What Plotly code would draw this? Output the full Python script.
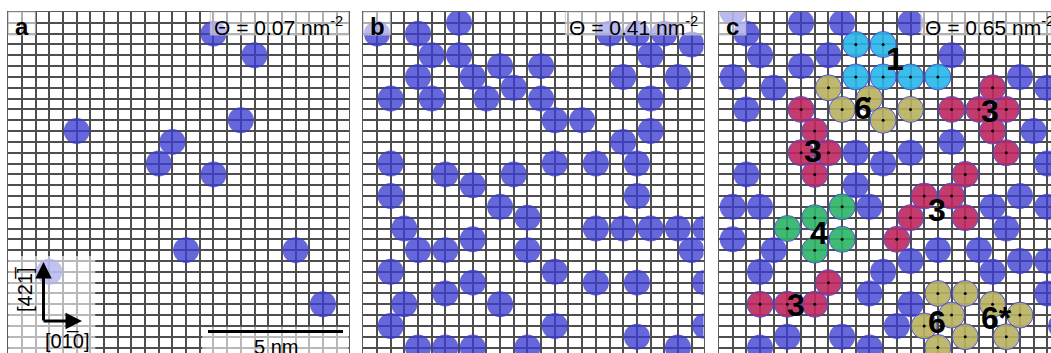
import plotly.graph_objects as go

# ---------------- lattice geometry (grid units) ----------------
COLS_AB = 24.87          # visible columns in panels a and b
COLS_C = 24.27           # panel c is cut at the right edge
ROWS = 31.5

# ---------------- adsorbate positions: (column, row) ----------------
# panel a, coverage 0.07 nm^-2
a_cols = [15, 18, 17, 5, 12, 11, 15, 13, 21, 23, 3]
a_rows = [2, 4, 10, 11, 12, 14, 15, 22, 22, 27, 24]

# panel b, coverage 0.41 nm^-2
b_cols = [1, 4, 7, 5, 7, 10, 13, 4, 8, 11, 2, 5, 9, 13, 14, 16, 18, 20, 22, 24,
          21, 19, 23, 21, 21, 19, 20, 2, 6, 8, 11, 14, 17,
          2, 20, 10, 12, 3, 17, 19, 21, 23, 25, 4, 6, 8, 12, 24,
          2, 14, 8, 17, 20, 25, 6, 3, 10, 2, 14, 25, 20, 4, 6, 8, 12, 23]
b_rows = [2, 2, 1, 4, 4, 5, 5, 6, 6, 7, 8, 8, 8, 8, 10, 10, 2, 2, 2, 3,
          4, 6, 6, 8, 11, 12, 14, 14, 15, 16, 15, 14, 14,
          17, 17, 18, 19, 20, 20, 20, 20, 20, 20, 22, 22, 21, 22, 22,
          24, 24, 25, 25, 25, 25, 26, 27, 27, 29, 29, 29, 30, 31, 31, 31, 31, 31]

# panel c, coverage 0.65 nm^-2 : isolated species
c_cols = [1, 2, 3, 1, 4, 2, 6, 9, 6, 8, 14, 17, 22, 24, 23, 24, 17, 14, 12, 10, 2,
          10, 1, 3, 11, 1, 4, 3, 12, 11, 14, 13, 14, 16, 19, 20, 21, 20, 22, 24,
          22, 24, 24, 25, 5, 3, 9, 11]
c_rows = [0, 2, 4, 6, 7, 9, 1, 1, 5, 4, 1, 4, 6, 7, 11, 14, 12, 13, 14, 13, 15,
          16, 18, 18, 18, 21, 22, 24, 24, 26, 27, 29, 23, 22, 22, 24, 20, 18, 17, 18,
          23, 23, 26, 29, 30, 31, 30, 31]

# panel c clusters, grouped by size
c1_cols = [10, 12, 10, 12, 14, 16]
c1_rows = [3, 3, 6, 6, 6, 6]
c3_cols = [6, 7, 6, 8, 7, 17, 19, 20, 21, 20, 21, 18, 15, 17, 14, 18, 13, 3, 5, 7, 8]
c3_rows = [9, 11, 13, 13, 15, 9, 9, 7, 9, 11, 13, 15, 17, 17, 19, 19, 21, 27, 27, 27, 25]
c4_cols = [5, 7, 9, 9, 7]
c4_rows = [20, 19, 18, 21, 22]
c6_cols = [8, 9, 11, 12, 14, 16, 18, 17, 15, 18, 16, 20, 22, 21]
c6_rows = [7, 9, 8, 10, 9, 26, 26, 28, 29, 30, 31, 27, 28, 30]

# cluster labels: text, column, row
lab_text = ["1", "6", "3", "3", "4", "3", "3", "6", "6*"]
lab_cols = [12.9, 10.55, 19.8, 6.9, 7.3, 15.9, 5.6, 15.9, 20.3]
lab_rows = [4.3, 8.9, 9.1, 12.8, 20.4, 18.3, 27.1, 28.6, 28.3]

coverage = ["0.07", "0.41", "0.65"]
panel_tags = ["a", "b", "c"]

# ---------------- styling ----------------
W, H = 1051, 353
BLUE = "rgb(60,60,210)"
CYAN = "rgb(40,182,232)"
OLIVE = "rgb(184,178,96)"
CRIMSON = "rgb(190,40,95)"
GREEN = "rgb(44,180,104)"
DOT_PX = 26
GRID = "rgb(78,78,78)"

left_px = [8.3, 363.3, 719.0]
right_px = [348.5, 703.5, 1051.0]
top_px = 12.0

fig = go.Figure()

y_dom = [0, (H - top_px) / H]
col_spans = [COLS_AB, COLS_AB, COLS_C]
for k in range(3):
    sfx = "" if k == 0 else str(k + 1)
    fig.update_layout(**{
        "xaxis" + sfx: dict(domain=[left_px[k] / W, right_px[k] / W],
                             range=[0, col_spans[k]], dtick=1, tick0=0,
                             showgrid=True, gridcolor=GRID, gridwidth=2,
                             zeroline=False, showticklabels=False, ticks="",
                             showline=True, mirror=True, linecolor="rgb(90,90,90)",
                             linewidth=1.4, layer="below traces",
                             anchor="y" + sfx, fixedrange=True),
        "yaxis" + sfx: dict(domain=y_dom, range=[ROWS, 0], dtick=1, tick0=0,
                             showgrid=True, gridcolor=GRID, gridwidth=2,
                             zeroline=False, showticklabels=False, ticks="",
                             showline=True, mirror=True, linecolor="rgb(90,90,90)",
                             linewidth=1.4, layer="below traces",
                             anchor="x" + sfx, fixedrange=True),
    })


def add_dots(cols, rows, k, color, opacity, outline=False, centre=False):
    sfx = "" if k == 0 else str(k + 1)
    fig.add_trace(go.Scatter(
        x=cols, y=rows, mode="markers", xaxis="x" + sfx, yaxis="y" + sfx,
        marker=dict(size=DOT_PX, color=color, opacity=opacity,
                    line=dict(width=1 if outline else 0, color="rgb(70,70,220)")),
        hoverinfo="skip", showlegend=False, cliponaxis=True))
    if centre:
        fig.add_trace(go.Scatter(
            x=cols, y=rows, mode="markers", xaxis="x" + sfx, yaxis="y" + sfx,
            marker=dict(size=3, color="black"),
            hoverinfo="skip", showlegend=False, cliponaxis=True))


add_dots(a_cols, a_rows, 0, BLUE, 0.78)
add_dots(b_cols, b_rows, 1, BLUE, 0.78)
add_dots(c_cols, c_rows, 2, BLUE, 0.78)
add_dots(c1_cols, c1_rows, 2, CYAN, 0.9, True, True)
add_dots(c3_cols, c3_rows, 2, CRIMSON, 0.9, True, True)
add_dots(c4_cols, c4_rows, 2, GREEN, 0.9, True, True)
add_dots(c6_cols, c6_rows, 2, OLIVE, 0.9, True, True)

FONT = "Liberation Sans, Arial"

# cluster size labels in panel c
for t, cx, cy in zip(lab_text, lab_cols, lab_rows):
    fig.add_annotation(x=cx, y=cy, xref="x3", yref="y3", text="<b>%s</b>" % t,
                       showarrow=False, font=dict(size=32, color="black", family=FONT))

shapes = []
for k in range(3):
    xd = "x domain" if k == 0 else "x%d domain" % (k + 1)
    yd = "y domain" if k == 0 else "y%d domain" % (k + 1)
    pw = right_px[k] - left_px[k]
    ph = H - top_px
    # translucent header boxes
    shapes.append(dict(type="rect", xref=xd, yref=yd, x0=0, x1=27 / pw,
                       y0=1 - 23 / ph, y1=1, fillcolor="rgba(255,255,255,0.55)",
                       line=dict(width=1, color="rgba(190,190,190,0.8)"), layer="above"))
    shapes.append(dict(type="rect", xref=xd, yref=yd, x0=202 / pw, x1=1,
                       y0=1 - 23 / ph, y1=1, fillcolor="rgba(255,255,255,0.55)",
                       line=dict(width=1, color="rgba(190,190,190,0.8)"), layer="above"))
    fig.add_annotation(xref=xd, yref=yd, x=5 / pw, y=1 + 1 / ph, xanchor="left",
                       yanchor="top", text="<b>%s</b>" % panel_tags[k], showarrow=False,
                       font=dict(size=24, color="black", family=FONT))
    fig.add_annotation(xref=xd, yref=yd, x=204 / pw, y=1 + 1 / ph, xanchor="left",
                       yanchor="top", showarrow=False,
                       text="\u0398 = %s nm<sup>-2</sup>" % coverage[k],
                       font=dict(size=21, color="black", family=FONT))

# panel a: orientation and scale-bar insets
pw = right_px[0] - left_px[0]
ph = H - top_px
shapes.append(dict(type="rect", xref="x domain", yref="y domain", x0=0, x1=87 / pw,
                   y0=0, y1=(H - 256) / ph, fillcolor="rgba(255,255,255,0.6)",
                   line=dict(width=0), layer="above"))
shapes.append(dict(type="rect", xref="x domain", yref="y domain", x0=194 / pw, x1=1,
                   y0=0, y1=(H - 327) / ph, fillcolor="rgba(255,255,255,0.6)",
                   line=dict(width=0), layer="above"))
# 5 nm scale bar
shapes.append(dict(type="line", xref="paper", yref="paper", x0=208 / W, x1=343 / W,
                   y0=(H - 331.5) / H, y1=(H - 331.5) / H,
                   line=dict(width=3, color="black"), layer="above"))
fig.add_annotation(xref="paper", yref="paper", x=276 / W, y=(H - 334) / H,
                   xanchor="center", yanchor="top", text="5 nm", showarrow=False,
                   font=dict(size=20, color="black", family=FONT))

# crystallographic direction arrows
fig.add_annotation(xref="paper", yref="paper", x=43.5 / W, y=(H - 262) / H,
                   ax=0, ay=60, axref="pixel", ayref="pixel", text="",
                   showarrow=True, arrowhead=2, arrowsize=1.1, arrowwidth=3,
                   arrowcolor="black")
fig.add_annotation(xref="paper", yref="paper", x=82 / W, y=(H - 321) / H,
                   ax=-40, ay=0, axref="pixel", ayref="pixel", text="",
                   showarrow=True, arrowhead=2, arrowsize=1.1, arrowwidth=3,
                   arrowcolor="black")
fig.add_annotation(xref="paper", yref="paper", x=25 / W, y=(H - 290) / H,
                   xanchor="center", yanchor="middle",
                   text="[421\u0305]", textangle=-90, showarrow=False,
                   font=dict(size=20, color="black", family=FONT))
fig.add_annotation(xref="paper", yref="paper", x=67 / W, y=(H - 328) / H,
                   xanchor="center", yanchor="top",
                   text="[01\u03050]", showarrow=False,
                   font=dict(size=20, color="black", family=FONT))

fig.update_layout(width=W, height=H, margin=dict(l=0, r=0, t=0, b=0),
                  paper_bgcolor="white", plot_bgcolor="white", shapes=shapes,
                  showlegend=False)

fig.write_html("out.html")
